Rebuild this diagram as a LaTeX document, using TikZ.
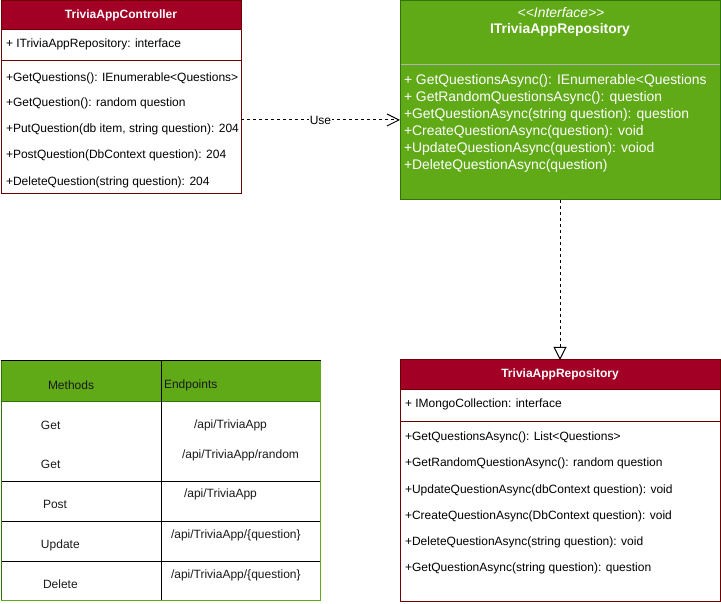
\documentclass[tikz,border=0pt]{standalone}
\usepackage{fontspec}
\setmainfont{Liberation Sans}
\usetikzlibrary{arrows.meta}
\definecolor{redfill}{HTML}{A20025}
\definecolor{redline}{HTML}{6F0000}
\definecolor{greenfill}{HTML}{60A917}
\definecolor{greenline}{HTML}{2D7600}
\definecolor{sepgray}{HTML}{B3B3B3}
\definecolor{hdrtext}{HTML}{1A1A1A}
\begin{document}
\begin{tikzpicture}[x=1pt,y=-1pt,
  box/.style={draw, line width=1pt, rectangle, inner sep=0pt, outer sep=0pt, anchor=north west},
  hdr/.style={rectangle, inner sep=0pt, outer sep=0pt, anchor=north west, fill=redfill, text=white, font=\fontsize{12}{14}\selectfont\bfseries},
  item/.style={inner sep=0pt, outer sep=0pt, anchor=west, font=\fontsize{12}{14}\selectfont},
  iitem/.style={inner sep=0pt, outer sep=0pt, anchor=west, text=white, font=\fontsize{13.9}{16}\selectfont},
  titem/.style={inner sep=0pt, outer sep=0pt, anchor=west, text=hdrtext, font=\fontsize{12}{14}\selectfont},
  dep/.style={line width=1pt, dash pattern=on 3pt off 3pt}
]
\useasboundingbox (0,0) rectangle (721,604);

% ---------- TriviaAppController ----------
\node[box, draw=redline, fill=white, minimum width=240pt, minimum height=193pt] (ctrl) at (1,1) {};
\node[hdr, minimum width=240pt, minimum height=29pt] (ctrlhead) at (1,1) {TriviaAppController};
\draw[redline, line width=1pt] (ctrl.north west) rectangle (ctrl.south east);
\draw[redline, line width=1pt] (1,30) -- (241,30);
\draw[redline, line width=1pt] (1,61) -- (241,61);
\node[item] (c0) at (6,44) {+ ITriviaAppRepository: interface};
\node[item] (c1) at (6,78) {+GetQuestions(): IEnumerable<Questions>};
\node[item] (c2) at (6,103) {+GetQuestion(): random question};
\node[item] (c3) at (6,129.5) {+PutQuestion(db item, string question): 204};
\node[item] (c4) at (6,155.5) {+PostQuestion(DbContext question): 204};
\node[item] (c5) at (6,182) {+DeleteQuestion(string question): 204};

% ---------- ITriviaAppRepository ----------
\node[box, draw=greenline, fill=greenfill, minimum width=320pt, minimum height=199pt] (iface) at (400,1) {};
\draw[sepgray, line width=1pt] (400.5,65) -- (719.5,65);
\node[inner sep=0pt, text=white, font=\fontsize{13.9}{16}\selectfont\itshape] (istereo) at (561,13) {<\kern0pt<Interface>\kern0pt>};
\node[inner sep=0pt, text=white, font=\fontsize{13.9}{16}\selectfont\bfseries] (iname) at (560,29.5) {ITriviaAppRepository};
\node[iitem] (i1) at (404,81) {+ GetQuestionsAsync(): IEnumerable<Questions};
\node[iitem] (i2) at (404,98) {+ GetRandomQuestionsAsync(): question};
\node[iitem] (i3) at (404,115) {+GetQuestionAsync(string question): question};
\node[iitem] (i4) at (404,132) {+CreateQuestionAsync(question): void};
\node[iitem] (i5) at (404,149) {+UpdateQuestionAsync(question): voiod};
\node[iitem] (i6) at (404,166) {+DeleteQuestionAsync(question)};

% ---------- TriviaAppRepository ----------
\node[box, draw=redline, fill=white, minimum width=320pt, minimum height=241pt] (repo) at (400,360) {};
\node[hdr, minimum width=320pt, minimum height=29pt] (repohead) at (400,360) {TriviaAppRepository};
\draw[redline, line width=1pt] (repo.north west) rectangle (repo.south east);
\draw[redline, line width=1pt] (400,389) -- (720,389);
\draw[redline, line width=1pt] (400,421) -- (720,421);
\node[item] (r0) at (405,404) {+ IMongoCollection: interface};
\node[item] (r1) at (405,437.5) {+GetQuestionsAsync(): List<Questions>};
\node[item] (r2) at (405,463.5) {+GetRandomQuestionAsync(): random question};
\node[item] (r3) at (405,490) {+UpdateQuestionAsync(dbContext question): void};
\node[item] (r4) at (405,516) {+CreateQuestionAsync(DbContext question): void};
\node[item] (r5) at (405,542) {+DeleteQuestionAsync(string question): void};
\node[item] (r6) at (405,568) {+GetQuestionAsync(string question): question};

% ---------- Endpoint table ----------
\node[box, draw=none, fill=white, minimum width=319pt, minimum height=239pt] (tbl) at (1,361) {};
\fill[greenfill] (1,361) rectangle (320,401);
\draw[greenline, line width=1pt] (1,401) -- (320,401);
\draw[black, line width=1pt] (161,361) -- (161,600);
\draw[black, line width=1pt] (1,481) -- (320,481);
\draw[black, line width=1pt] (1,521) -- (320,521);
\draw[black, line width=1pt] (1,561) -- (320,561);
\draw[greenfill, line width=1pt] (320,361) -- (320,600) -- (1,600);
\draw[greenline, line width=1pt] (1,361) -- (1,600);
\draw[black, line width=1pt] (0.5,361) -- (320.5,361);
\node[titem] (tm) at (48,385) {Methods};
\node[titem] (te) at (164,385) {Endpoints};
\node[titem] (m1) at (41,425) {Get};
\node[titem] (m2) at (41,464.5) {Get};
\node[titem] (m3) at (43,504.5) {Post};
\node[titem] (m4) at (41,545) {Update};
\node[titem] (m5) at (43,584.5) {Delete};
\node[titem] (e1) at (194,425) {/api/TriviaApp};
\node[titem] (e2) at (182,455) {/api/TriviaApp/random};
\node[titem] (e3) at (184,494.5) {/api/TriviaApp};
\node[titem] (e4) at (171,535) {/api/TriviaApp/\{question\}};
\node[titem] (e5) at (171,575) {/api/TriviaApp/\{question\}};

% ---------- Connectors ----------
\draw[dep, -{Straight Barb[length=12pt,width=12pt,line width=1pt]}]
  (ctrl.east |- 0,120) -- node[fill=white, inner sep=1pt, font=\fontsize{12}{14}\selectfont] (uselbl) {Use} (iface.west |- 0,120);
\draw[dep, -{Triangle[open, fill=white, length=13pt, width=13pt, line width=1pt]}]
  (iface.south) -- (repo.north);
\end{tikzpicture}
\end{document}
